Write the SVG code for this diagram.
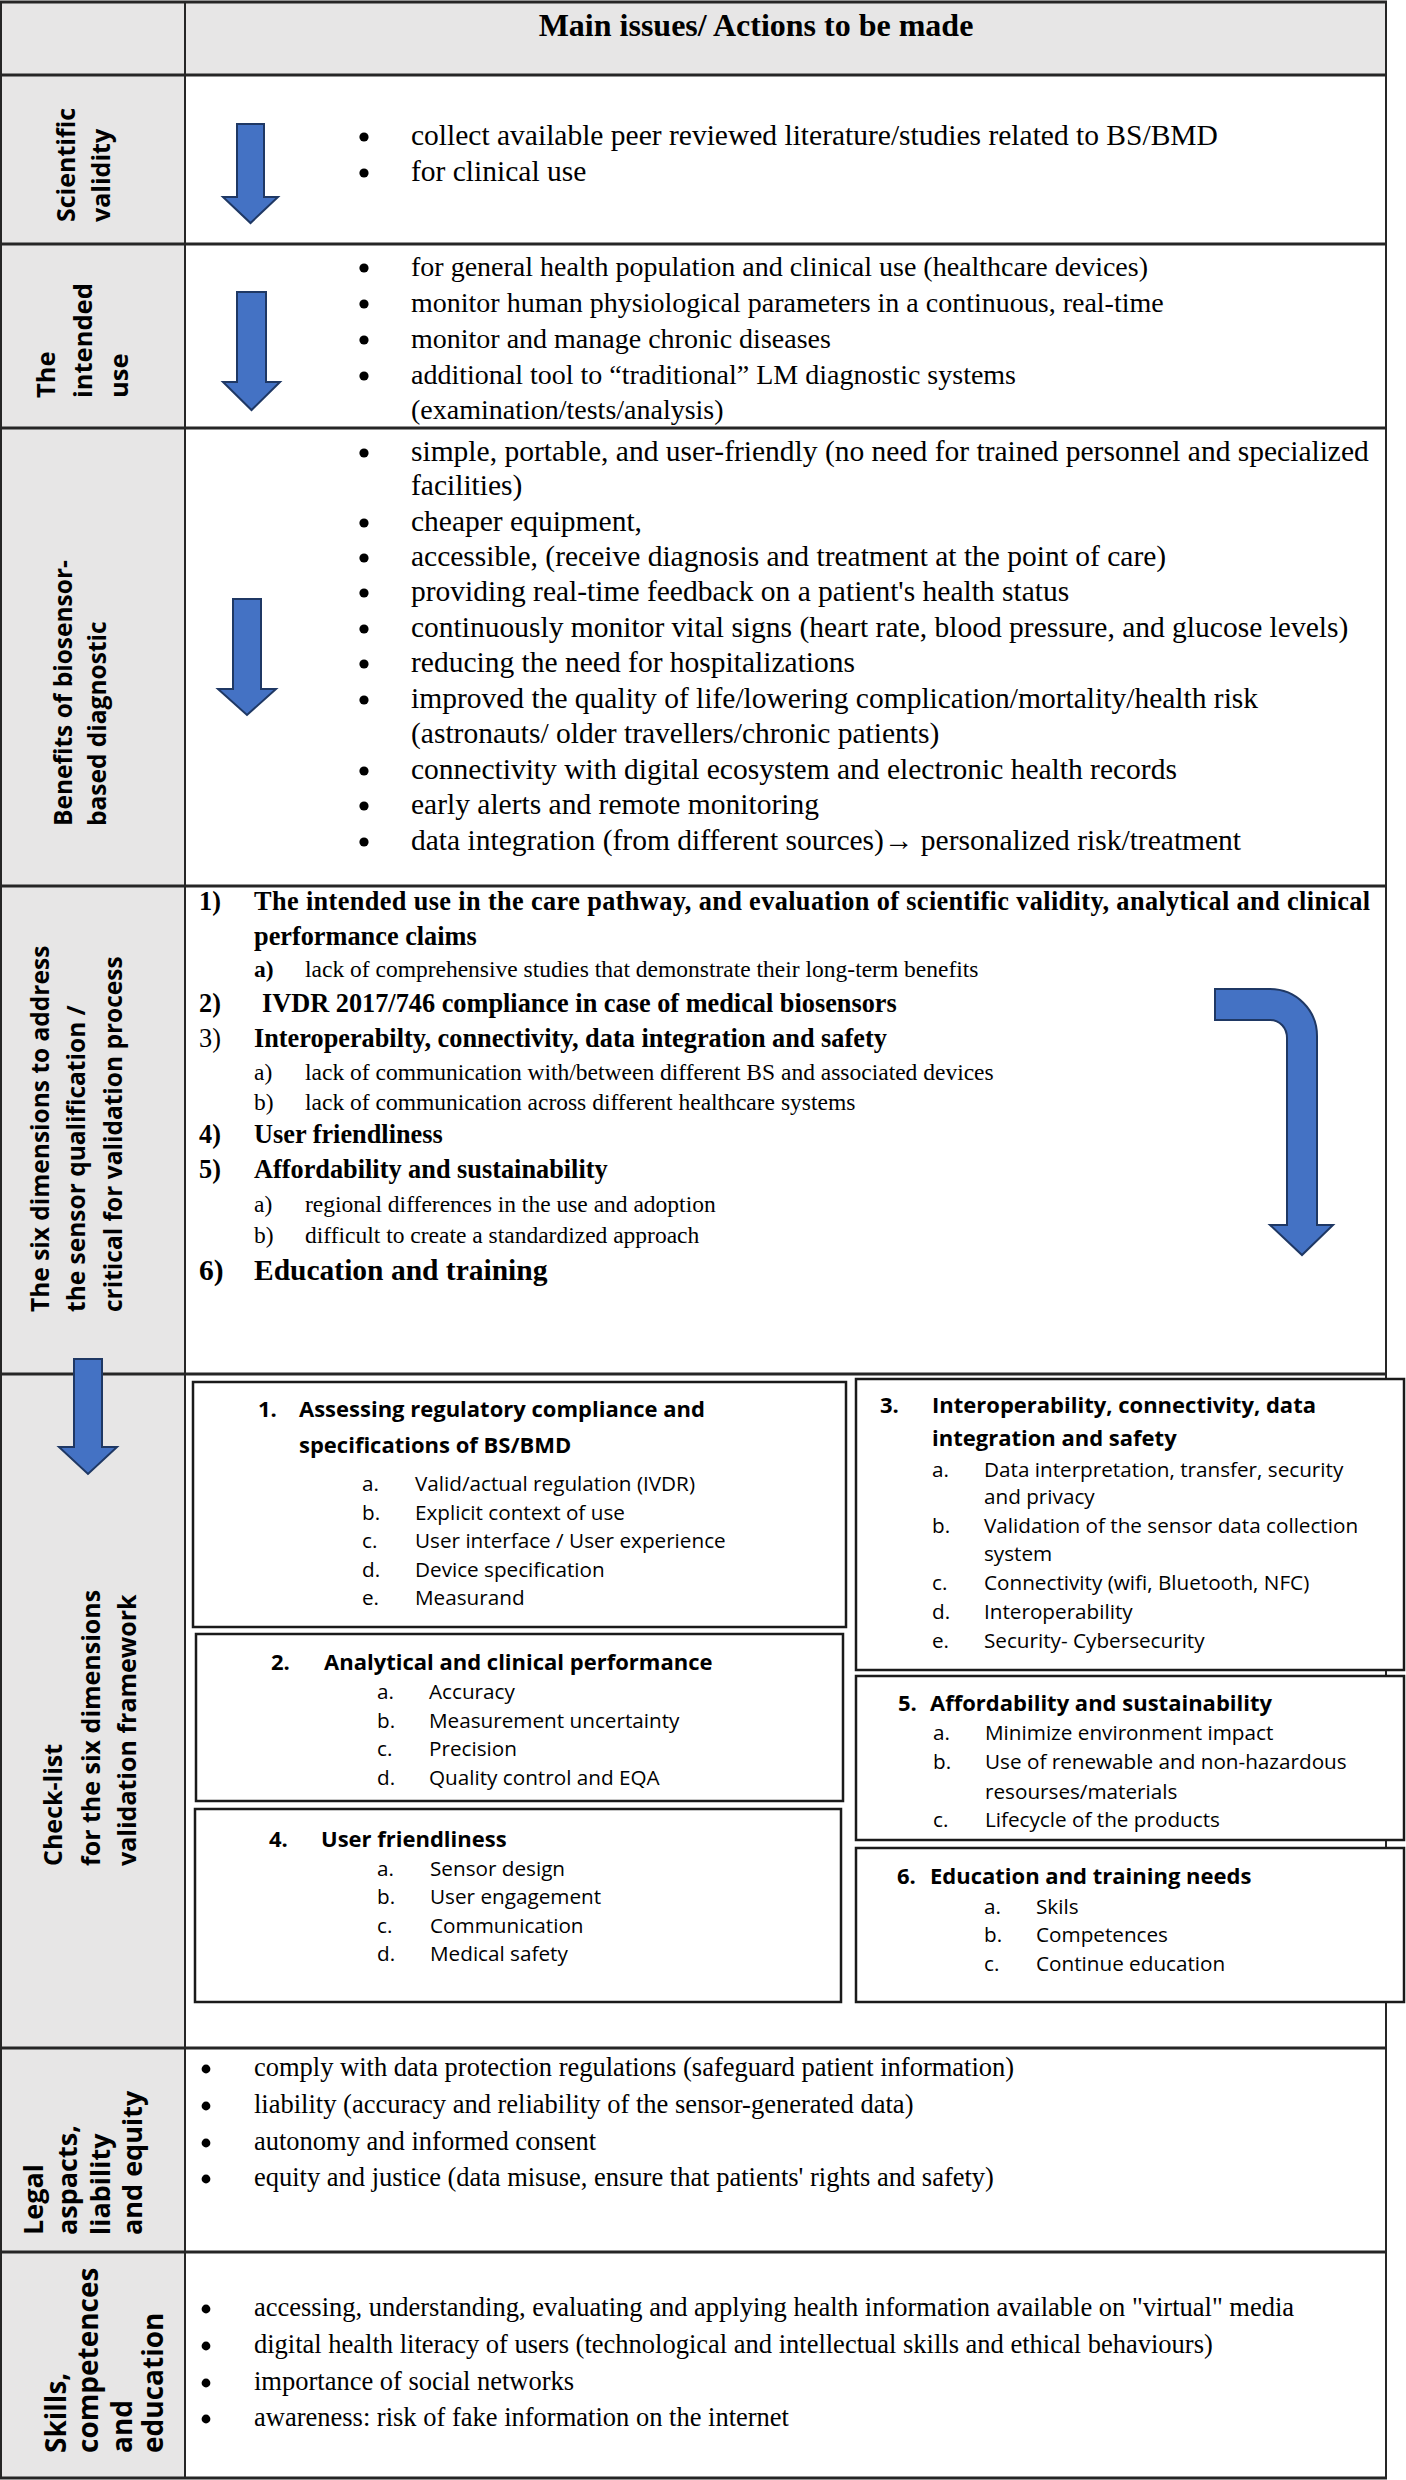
<svg xmlns="http://www.w3.org/2000/svg" width="1406" height="2480" viewBox="0 0 1406 2480">
<style>
.bg{fill:#ffffff}
.cell{fill:#e7e6e6}
.hl{stroke:#262626;stroke-width:3;fill:none}
.vl{stroke:#262626;stroke-width:2;fill:none}
.t{font-family:"Liberation Serif","Times New Roman",serif;fill:#000}
.b{font-weight:bold}
.s29{font-size:29.5px}
.s28{font-size:28px}
.s27{font-size:26.5px}
.s26{font-size:26.3px}
.s23{font-size:23.5px}
.dot{fill:#000}
.lab{font-family:"Open Sans","Liberation Sans",sans-serif;font-weight:bold;fill:#000}
.box{fill:#fff;stroke:#1a1a1a;stroke-width:2.5}
.bt{font-family:"Open Sans","Liberation Sans",sans-serif;font-size:22px;font-weight:bold;fill:#000}
.bi{font-family:"Open Sans","Liberation Sans",sans-serif;font-size:20.7px;fill:#000}
.arr{fill:#4472c4;stroke:#1f3864;stroke-width:2}
</style>
<rect class="bg" x="0" y="0" width="1406" height="2480"/>

<g id="table">
  <rect class="cell" x="1" y="2" width="1385" height="73"/>
  <rect class="cell" x="1" y="75" width="184" height="2403"/>
  <line class="hl" x1="0" y1="2" x2="1387" y2="2"/>
  <line class="hl" x1="0" y1="75" x2="1387" y2="75"/>
  <line class="hl" x1="0" y1="244" x2="1387" y2="244"/>
  <line class="hl" x1="0" y1="428" x2="1387" y2="428"/>
  <line class="hl" x1="0" y1="886" x2="1387" y2="886"/>
  <line class="hl" x1="0" y1="1374" x2="1387" y2="1374"/>
  <line class="hl" x1="0" y1="2048" x2="1387" y2="2048"/>
  <line class="hl" x1="0" y1="2252" x2="1387" y2="2252"/>
  <line class="hl" x1="0" y1="2478" x2="1387" y2="2478"/>
  <line class="vl" x1="1" y1="1" x2="1" y2="2479"/>
  <line class="vl" x1="185" y1="1" x2="185" y2="2479"/>
  <line class="vl" x1="1386" y1="1" x2="1386" y2="2479"/>
</g>

<g id="header">
  <text class="t b" x="756" y="36" font-size="32" text-anchor="middle">Main issues/ Actions to be made</text>
</g>

<g id="scientific-validity">
  <text class="lab" font-size="25" transform="translate(75,222) rotate(-90)"><tspan x="0" y="0">Scientific</tspan><tspan x="0" y="35">validity</tspan></text>
  <circle class="dot" cx="364" cy="137" r="4.6"/>
  <circle class="dot" cx="364" cy="173" r="4.6"/>
  <g class="t s29">
    <text x="411" y="145">collect available peer reviewed literature/studies related to BS/BMD</text>
    <text x="411" y="181">for clinical use</text>
  </g>
</g>

<g id="intended-use">
  <text class="lab" font-size="25.5" transform="translate(55,398) rotate(-90)"><tspan x="0" y="0">The</tspan><tspan x="0" y="37">intended</tspan><tspan x="0" y="73">use</tspan></text>
  <circle class="dot" cx="364" cy="268" r="4.6"/>
  <circle class="dot" cx="364" cy="304" r="4.6"/>
  <circle class="dot" cx="364" cy="340" r="4.6"/>
  <circle class="dot" cx="364" cy="376" r="4.6"/>
  <g class="t s28">
    <text x="411" y="276">for general health population and clinical use (healthcare devices)</text>
    <text x="411" y="312">monitor human physiological parameters in a continuous, real-time</text>
    <text x="411" y="348">monitor and manage chronic diseases</text>
    <text x="411" y="384">additional tool to “traditional” LM diagnostic systems</text>
    <text x="411" y="419">(examination/tests/analysis)</text>
  </g>
</g>

<g id="benefits">
  <text class="lab" font-size="24.5" transform="translate(72,826) rotate(-90)"><tspan x="0" y="0">Benefits of biosensor-</tspan><tspan x="0" y="34">based diagnostic</tspan></text>
  <circle class="dot" cx="364" cy="453" r="4.6"/>
  <circle class="dot" cx="364" cy="523" r="4.6"/>
  <circle class="dot" cx="364" cy="558" r="4.6"/>
  <circle class="dot" cx="364" cy="593" r="4.6"/>
  <circle class="dot" cx="364" cy="629" r="4.6"/>
  <circle class="dot" cx="364" cy="664" r="4.6"/>
  <circle class="dot" cx="364" cy="700" r="4.6"/>
  <circle class="dot" cx="364" cy="771" r="4.6"/>
  <circle class="dot" cx="364" cy="806" r="4.6"/>
  <circle class="dot" cx="364" cy="842" r="4.6"/>
  <g class="t s29">
    <text x="411" y="461">simple, portable, and user-friendly (no need for trained personnel and specialized</text>
    <text x="411" y="495">facilities)</text>
    <text x="411" y="531">cheaper equipment,</text>
    <text x="411" y="566">accessible, (receive diagnosis and treatment at the point of care)</text>
    <text x="411" y="601">providing real-time feedback on a patient's health status</text>
    <text x="411" y="637">continuously monitor vital signs (heart rate, blood pressure, and glucose levels)</text>
    <text x="411" y="672">reducing the need for hospitalizations</text>
    <text x="411" y="708">improved the quality of life/lowering complication/mortality/health risk</text>
    <text x="411" y="743">(astronauts/ older travellers/chronic patients)</text>
    <text x="411" y="779">connectivity with digital ecosystem and electronic health records</text>
    <text x="411" y="814">early alerts and remote monitoring</text>
    <text x="411" y="850">data integration (from different sources)→ personalized risk/treatment</text>
  </g>
</g>

<g id="six-dimensions">
  <text class="lab" font-size="24.5" transform="translate(49,1312) rotate(-90)"><tspan x="0" y="0">The six dimensions to address</tspan><tspan x="0" y="36">the sensor qualification /</tspan><tspan x="0" y="73">critical for validation process</tspan></text>
  <g class="t">
    <text class="b s26" x="199" y="910">1)</text><text class="b s26" x="254" y="910" textLength="1116" lengthAdjust="spacing">The intended use in the care pathway, and evaluation of scientific validity, analytical and clinical</text>
    <text class="b s26" x="254" y="945">performance claims</text>
    <text class="b s23" x="254" y="977">a)</text><text class="s23" x="305" y="977">lack of comprehensive studies that demonstrate their long-term benefits</text>
    <text class="b s26" x="199" y="1012">2)</text><text class="b s26" x="262" y="1012">IVDR 2017/746 compliance in case of medical biosensors</text>
    <text class="s26" x="199" y="1047">3)</text><text class="b s26" x="254" y="1047">Interoperabilty, connectivity, data integration and safety</text>
    <text class="s23" x="254" y="1080">a)</text><text class="s23" x="305" y="1080">lack of communication with/between different BS and associated devices</text>
    <text class="s23" x="254" y="1110">b)</text><text class="s23" x="305" y="1110">lack of communication across different healthcare systems</text>
    <text class="b s26" x="199" y="1143">4)</text><text class="b s26" x="254" y="1143">User friendliness</text>
    <text class="b s26" x="199" y="1178">5)</text><text class="b s26" x="254" y="1178">Affordability and sustainability</text>
    <text class="s23" x="254" y="1212">a)</text><text class="s23" x="305" y="1212">regional differences in the use and adoption</text>
    <text class="s23" x="254" y="1243">b)</text><text class="s23" x="305" y="1243">difficult to create a standardized approach</text>
    <text class="b" font-size="29.5" x="199" y="1280">6)</text><text class="b" font-size="29.5" x="254" y="1280">Education and training</text>
  </g>
</g>

<g id="checklist">
  <text class="lab" font-size="25" transform="translate(62,1866) rotate(-90)"><tspan x="0" y="0">Check-list</tspan><tspan x="0" y="38">for the six dimensions</tspan><tspan x="0" y="74">validation framework</tspan></text>
</g>

<g id="box1">
  <rect class="box" x="193" y="1382" width="653" height="245"/>
  <text class="bt" x="258" y="1417">1.</text><text class="bt" x="299" y="1417">Assessing regulatory compliance and</text>
  <text class="bt" x="299" y="1453">specifications of BS/BMD</text>
  <text class="bi" x="362" y="1491">a.</text><text class="bi" x="415" y="1491">Valid/actual regulation (IVDR)</text>
  <text class="bi" x="362" y="1520">b.</text><text class="bi" x="415" y="1520">Explicit context of use</text>
  <text class="bi" x="362" y="1548">c.</text><text class="bi" x="415" y="1548">User interface / User experience</text>
  <text class="bi" x="362" y="1577">d.</text><text class="bi" x="415" y="1577">Device specification</text>
  <text class="bi" x="362" y="1605">e.</text><text class="bi" x="415" y="1605">Measurand</text>
</g>

<g id="box2">
  <rect class="box" x="196" y="1634" width="647" height="167"/>
  <text class="bt" x="271" y="1670">2.</text><text class="bt" x="324" y="1670">Analytical and clinical performance</text>
  <text class="bi" x="377" y="1699">a.</text><text class="bi" x="429" y="1699">Accuracy</text>
  <text class="bi" x="377" y="1728">b.</text><text class="bi" x="429" y="1728">Measurement uncertainty</text>
  <text class="bi" x="377" y="1756">c.</text><text class="bi" x="429" y="1756">Precision</text>
  <text class="bi" x="377" y="1785">d.</text><text class="bi" x="429" y="1785">Quality control and EQA</text>
</g>

<g id="box4">
  <rect class="box" x="195" y="1809" width="646" height="193"/>
  <text class="bt" x="269" y="1847">4.</text><text class="bt" x="321" y="1847">User friendliness</text>
  <text class="bi" x="377" y="1876">a.</text><text class="bi" x="430" y="1876">Sensor design</text>
  <text class="bi" x="377" y="1904">b.</text><text class="bi" x="430" y="1904">User engagement</text>
  <text class="bi" x="377" y="1933">c.</text><text class="bi" x="430" y="1933">Communication</text>
  <text class="bi" x="377" y="1961">d.</text><text class="bi" x="430" y="1961">Medical safety</text>
</g>

<g id="box3">
  <rect class="box" x="856" y="1379" width="548" height="291"/>
  <text class="bt" x="880" y="1413">3.</text><text class="bt" x="932" y="1413">Interoperability, connectivity, data</text>
  <text class="bt" x="932" y="1446">integration and safety</text>
  <text class="bi" x="932" y="1477">a.</text><text class="bi" x="984" y="1477">Data interpretation, transfer, security</text>
  <text class="bi" x="984" y="1504">and privacy</text>
  <text class="bi" x="932" y="1533">b.</text><text class="bi" x="984" y="1533">Validation of the sensor data collection</text>
  <text class="bi" x="984" y="1561">system</text>
  <text class="bi" x="932" y="1590">c.</text><text class="bi" x="984" y="1590">Connectivity (wifi, Bluetooth, NFC)</text>
  <text class="bi" x="932" y="1619">d.</text><text class="bi" x="984" y="1619">Interoperability</text>
  <text class="bi" x="932" y="1648">e.</text><text class="bi" x="984" y="1648">Security- Cybersecurity</text>
</g>

<g id="box5">
  <rect class="box" x="856" y="1676" width="548" height="164"/>
  <text class="bt" x="898" y="1711">5.</text><text class="bt" x="930" y="1711">Affordability and sustainability</text>
  <text class="bi" x="933" y="1740">a.</text><text class="bi" x="985" y="1740">Minimize environment impact</text>
  <text class="bi" x="933" y="1769">b.</text><text class="bi" x="985" y="1769">Use of renewable and non-hazardous</text>
  <text class="bi" x="985" y="1799">resourses/materials</text>
  <text class="bi" x="933" y="1827">c.</text><text class="bi" x="985" y="1827">Lifecycle of the products</text>
</g>

<g id="box6">
  <rect class="box" x="856" y="1848" width="548" height="154"/>
  <text class="bt" x="897" y="1884">6.</text><text class="bt" x="930" y="1884">Education and training needs</text>
  <text class="bi" x="984" y="1914">a.</text><text class="bi" x="1036" y="1914">Skils</text>
  <text class="bi" x="984" y="1942">b.</text><text class="bi" x="1036" y="1942">Competences</text>
  <text class="bi" x="984" y="1971">c.</text><text class="bi" x="1036" y="1971">Continue education</text>
</g>

<g id="legal">
  <text class="lab" font-size="27" transform="translate(43,2235) rotate(-90)"><tspan x="0" y="0">Legal</tspan><tspan x="0" y="34">aspacts,</tspan><tspan x="0" y="67">liability</tspan><tspan x="0" y="99">and equity</tspan></text>
  <circle class="dot" cx="206" cy="2069" r="4.4"/>
  <circle class="dot" cx="206" cy="2106" r="4.4"/>
  <circle class="dot" cx="206" cy="2143" r="4.4"/>
  <circle class="dot" cx="206" cy="2179" r="4.4"/>
  <g class="t s27">
    <text x="254" y="2076">comply with data protection regulations (safeguard patient information)</text>
    <text x="254" y="2113">liability (accuracy and reliability of the sensor-generated data)</text>
    <text x="254" y="2150">autonomy and informed consent</text>
    <text x="254" y="2186">equity and justice (data misuse, ensure that patients' rights and safety)</text>
  </g>
</g>

<g id="skills">
  <text class="lab" font-size="28" transform="translate(66,2453) rotate(-90)"><tspan x="0" y="0">Skills,</tspan><tspan x="0" y="32">competences</tspan><tspan x="0" y="66">and</tspan><tspan x="0" y="97">education</tspan></text>
  <circle class="dot" cx="206" cy="2309" r="4.4"/>
  <circle class="dot" cx="206" cy="2346" r="4.4"/>
  <circle class="dot" cx="206" cy="2383" r="4.4"/>
  <circle class="dot" cx="206" cy="2419" r="4.4"/>
  <g class="t s27">
    <text x="254" y="2316">accessing, understanding, evaluating and applying health information available on "virtual" media</text>
    <text x="254" y="2353">digital health literacy of users (technological and intellectual skills and ethical behaviours)</text>
    <text x="254" y="2390">importance of social networks</text>
    <text x="254" y="2426">awareness: risk of fake information on the internet</text>
  </g>
</g>

<g id="connectors">
  <path class="arr" d="M237,124 H264 V197 H278 L250.5,223 L223,197 H237 Z"/>
  <path class="arr" d="M237,292 H266 V382 H280 L251.5,410 L223,382 H237 Z"/>
  <path class="arr" d="M233,599 H261 V689 H276 L247,715 L218,689 H233 Z"/>
  <path class="arr" d="M1215,989 H1270 C1296,989 1317,1010 1317,1036 V1225 H1333 L1302,1255 L1270,1225 H1287 V1038 C1287,1028 1280,1020 1270,1020 H1215 Z"/>
  <path class="arr" d="M74,1359 H102 V1447 H117 L88,1474 L59,1447 H74 Z"/>
</g>
</svg>
